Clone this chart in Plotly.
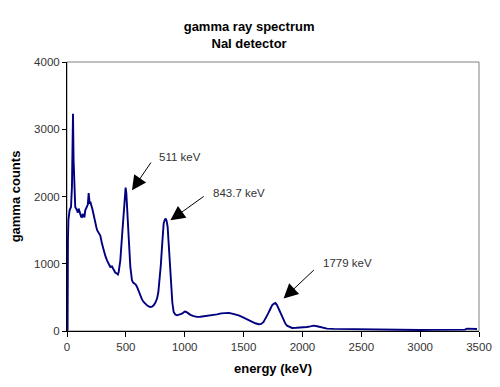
import plotly.graph_objects as go

# Spectrum
energy_kev = [0, 5, 8, 12, 22, 34, 42, 46, 51, 56, 62, 70, 85, 92, 99, 106, 113, 120, 127, 134, 141,
              148, 155, 162, 170, 177, 184, 188, 193, 198, 204, 211, 218, 226, 235, 242, 249, 256, 263,
              273, 283, 297, 311, 325, 340, 354, 368, 382, 396, 410, 425, 432, 439, 446, 453, 467, 481,
              490, 498, 504, 510, 524, 538, 552, 562, 572, 584, 595, 609, 623, 637, 651, 665, 680, 694,
              708, 722, 736, 750, 765, 776, 787, 797, 807, 814, 821, 830, 838, 846, 855, 862, 869, 876,
              884, 895, 906, 920, 935, 956, 977, 1000, 1014, 1031, 1048, 1076, 1104, 1133, 1161, 1190,
              1218, 1246, 1274, 1310, 1345, 1375, 1402, 1430, 1458, 1487, 1515, 1543, 1572, 1600, 1628,
              1650, 1670, 1690, 1708, 1725, 1742, 1756, 1770, 1784, 1798, 1812, 1827, 1841, 1855, 1869,
              1890, 1912, 1950, 1982, 2010, 2039, 2067, 2095, 2124, 2152, 2180, 2209, 2265, 2322, 2400,
              2492, 2580, 2662, 2750, 2832, 2920, 3002, 3090, 3172, 3260, 3342, 3380, 3398, 3430, 3455,
              3483]
gamma_counts = [0, 20, 1350, 1650, 1795, 1844, 2141, 2700, 3232, 2538, 2141, 1844, 1795, 1760, 1820,
                1770, 1746, 1700, 1695, 1740, 1720, 1690, 1795, 1830, 1869, 1880, 2052, 1900, 1894, 1920,
                1894, 1840, 1795, 1720, 1646, 1600, 1547, 1500, 1472, 1450, 1420, 1300, 1200, 1120, 1051,
                1000, 952, 960, 902, 870, 853, 840, 878, 950, 1051, 1398, 1795, 2000, 2132, 2050, 1894,
                1398, 952, 754, 720, 705, 690, 654, 590, 531, 470, 431, 400, 382, 365, 357, 362, 382,
                420, 482, 580, 754, 980, 1250, 1450, 1597, 1650, 1671, 1640, 1547, 1350, 1151, 880, 605,
                420, 283, 245, 233, 245, 258, 290, 283, 262, 240, 222, 210, 212, 218, 226, 233, 240, 248,
                262, 268, 270, 258, 248, 233, 210, 184, 160, 134, 115, 100, 105, 134, 190, 258, 320, 382,
                405, 416, 385, 333, 270, 208, 150, 110, 80, 60, 45, 48, 50, 55, 59, 68, 80, 70, 59, 45, 36,
                32, 30, 28, 25, 25, 25, 22, 20, 18, 15, 16, 15, 15, 15, 20, 35, 33, 35, 30]

x_ticks = [0, 500, 1000, 1500, 2000, 2500, 3000, 3500]
y_ticks = [0, 1000, 2000, 3000, 4000]

# Annotations: label, arrow head (x, y), arrow tail (x, y), text centre (x, y)
peak_labels = ["511 keV", "843.7 keV", "1779 keV"]
head_x = [552, 878, 1840]
head_y = [2092, 1646, 482]
tail_x = [722, 1175, 2110]
tail_y = [2528, 2018, 928]
label_x = [963, 1458, 2386]
label_y = [2587, 2052, 1011]

FONT = "Liberation Sans, Arial, sans-serif"

fig = go.Figure()
fig.add_trace(go.Scatter(x=energy_kev, y=gamma_counts, mode="lines",
                         line=dict(color="#000080", width=1.9), showlegend=False))

annotations = []
for lab, hx, hy, tx, ty, lx, ly in zip(peak_labels, head_x, head_y, tail_x, tail_y, label_x, label_y):
    annotations.append(dict(x=hx, y=hy, ax=tx, ay=ty, xref="x", yref="y", axref="x", ayref="y",
                            text="", showarrow=True, arrowhead=2, arrowsize=2.9, arrowwidth=1,
                            arrowcolor="#000000"))
    annotations.append(dict(x=lx, y=ly, xref="x", yref="y", text=lab, showarrow=False,
                            font=dict(family=FONT, size=11.5, color="#333333")))

# page body has an 8px margin, so the figure is sized 492x379 to fill the 500x387 window
fig.update_layout(
    width=492, height=379,
    margin=dict(l=59, r=21, t=54, b=56),
    paper_bgcolor="white", plot_bgcolor="white",
    font=dict(family=FONT, color="#333333"),
    title=dict(text="<b>gamma ray spectrum<br>NaI detector</b>", x=0.49, xref="container",
               xanchor="center", y=0.94, yanchor="top", automargin=False,
               font=dict(family=FONT, size=13, color="#000000")),
    annotations=annotations,
    shapes=[dict(type="rect", xref="paper", yref="paper", x0=0, y0=0, x1=1, y1=1,
                 line=dict(color="#808080", width=1), layer="below")],
)
fig.update_xaxes(range=[0, 3500], tickvals=x_ticks, ticks="outside", ticklen=5, tickcolor="#000",
                 showline=True, linecolor="#000", linewidth=1, showgrid=False, zeroline=False,
                 automargin=False,
                 tickfont=dict(family=FONT, size=11.5, color="#333333"),
                 title=dict(text="<b>energy (keV)</b>", standoff=12,
                            font=dict(family=FONT, size=13, color="#000000")))
fig.update_yaxes(range=[0, 4000], tickvals=y_ticks, ticks="outside", ticklen=4, tickcolor="#000",
                 showline=True, linecolor="#000", linewidth=1, showgrid=False, zeroline=False,
                 automargin=False,
                 tickfont=dict(family=FONT, size=11.5, color="#333333"),
                 title=dict(text="<b>gamma counts</b>", standoff=12,
                            font=dict(family=FONT, size=13, color="#000000")))

fig.write_html("out.html")
